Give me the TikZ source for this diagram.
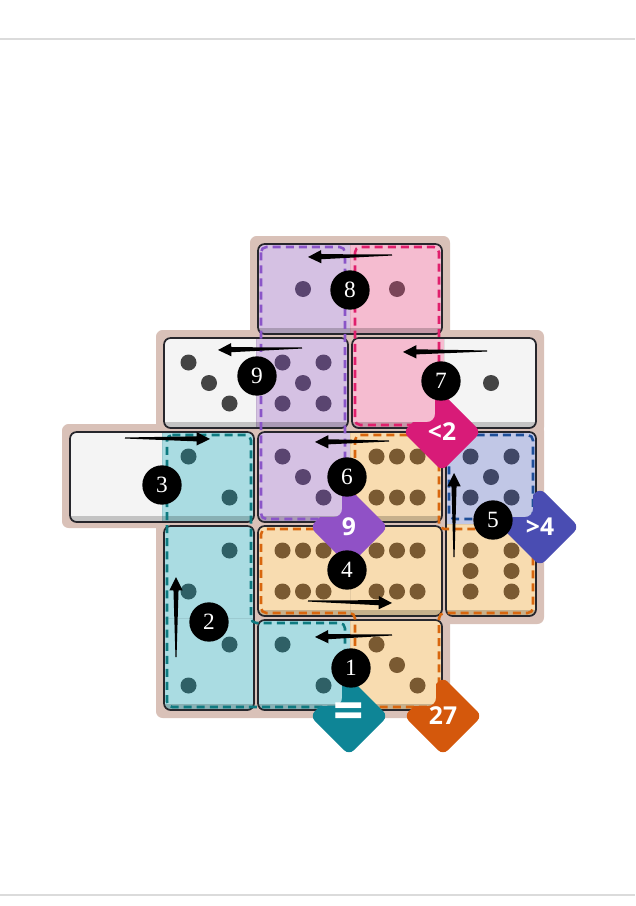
\documentclass[tikz,border=0pt]{standalone}
\usepackage{fontspec}
\setmainfont{Liberation Serif}
\newfontfamily\badgefont{Open Sans}
\usetikzlibrary{calc}
\definecolor{bgtan}{HTML}{D9C1B8}
\definecolor{cwhite}{HTML}{F4F4F4}
\definecolor{cteal}{HTML}{AADCE2}
\definecolor{cpurple}{HTML}{D5C1E3}
\definecolor{cpink}{HTML}{F5BCD0}
\definecolor{corange}{HTML}{F8DCB0}
\definecolor{cblue}{HTML}{C1C7E6}
\definecolor{dteal}{HTML}{0E7A80}
\definecolor{dpurple}{HTML}{8A55C8}
\definecolor{dpink}{HTML}{E01F6C}
\definecolor{dorange}{HTML}{D8660E}
\definecolor{dblue}{HTML}{1E4E98}
\definecolor{pwhite}{HTML}{444444}
\definecolor{pteal}{HTML}{2F6066}
\definecolor{ppurple}{HTML}{5A4570}
\definecolor{ppink}{HTML}{7A4558}
\definecolor{porange}{HTML}{7A5A32}
\definecolor{pblue}{HTML}{404766}
\definecolor{domedge}{HTML}{26262C}
\definecolor{bpink}{HTML}{D81B78}
\definecolor{bpurple}{HTML}{9051C6}
\definecolor{bblue}{HTML}{4A4DB2}
\definecolor{bteal}{HTML}{0E8596}
\definecolor{borange}{HTML}{D4580C}
\tikzset{
  dom/.style={draw=domedge, line width=1.3pt, rounded corners=5pt},
  reg/.style={line width=1.9pt, dash pattern=on 6pt off 3.8pt, rounded corners=4pt},
  marker/.style={circle, fill=black, text=white, minimum size=29.5pt, inner sep=0pt, font=\fontsize{17.5}{17.5}\selectfont},
  badgetxt/.style={text=white, font=\badgefont\bfseries\fontsize{18.5}{18.5}\selectfont, inner sep=0pt},
  arrowfill/.style={fill=black}
}
\newcommand\domH[4]{%
  \pgfmathsetmacro\dmx{68+94*#2}\pgfmathsetmacro\dmy{242+94*#1}%
  \begin{scope}
    \clip[rounded corners=5pt] (\dmx+2,\dmy+2) rectangle (\dmx+186,\dmy+92);
    \fill[#3] (\dmx,\dmy) rectangle (\dmx+94,\dmy+94);
    \fill[#4] (\dmx+94,\dmy) rectangle (\dmx+188,\dmy+94);
    \fill[black,opacity=0.2] (\dmx,\dmy+86) rectangle (\dmx+188,\dmy+94);
    \draw[black,opacity=0.08,line width=0.5pt] (\dmx+94,\dmy) -- (\dmx+94,\dmy+94);
  \end{scope}
  \draw[dom] (\dmx+2,\dmy+2) rectangle (\dmx+186,\dmy+92);
}
\newcommand\domV[4]{%
  \pgfmathsetmacro\dmx{68+94*#2}\pgfmathsetmacro\dmy{242+94*#1}%
  \begin{scope}
    \clip[rounded corners=5pt] (\dmx+2,\dmy+2) rectangle (\dmx+92,\dmy+186);
    \fill[#3] (\dmx,\dmy) rectangle (\dmx+94,\dmy+94);
    \fill[#4] (\dmx,\dmy+94) rectangle (\dmx+94,\dmy+188);
    \fill[black,opacity=0.2] (\dmx,\dmy+180) rectangle (\dmx+94,\dmy+188);
    \draw[black,opacity=0.08,line width=0.5pt] (\dmx,\dmy+94) -- (\dmx+94,\dmy+94);
  \end{scope}
  \draw[dom] (\dmx+2,\dmy+2) rectangle (\dmx+92,\dmy+186);
}
\newcommand\face[4]{%
  \foreach \u/\v in {#4} \fill[#3] ({115+94*#2+20.5*\u},{289+94*#1+20.5*\v}) circle[radius=6pt];
}
\newcommand\tarrow[2]{%
  \coordinate (tmpbase) at ($(#2)!10pt!(#1)$);
  \fill[arrowfill] ($(#1)!0.4pt!90:(#2)$) -- ($(tmpbase)!1.9pt!90:(#2)$) -- ($(tmpbase)!5pt!90:(#2)$) -- (#2)
     -- ($(tmpbase)!5pt!-90:(#2)$) -- ($(tmpbase)!1.9pt!-90:(#2)$) -- ($(#1)!0.4pt!-90:(#2)$) -- cycle;
}
\newcommand\badge[5]{%
  \begin{scope}[even odd rule]
    \clip (0,0) rectangle (635,906) [rounded corners=6pt] ({#2-100},{#3-100}) rectangle ({#2-7},{#3-10});
    \fill[#4, rounded corners=5pt] ({#2},{#3-39}) -- ({#2+39},{#3}) -- ({#2},{#3+39}) -- ({#2-39},{#3}) -- cycle;
  \end{scope}
  \node[badgetxt] (#1) at (#2,#3) {#5};
}
\begin{document}
\begin{tikzpicture}[x=0.75pt,y=-0.75pt]
\useasboundingbox (0,0) rectangle (635,906);
\fill[white] (0,0) rectangle (635,906);
\draw[black!14, line width=0.8pt] (0,39) -- (635,39);
\draw[black!14, line width=0.8pt] (0,895) -- (635,895);
% board background
\begin{scope}[bgtan, rounded corners=5pt]
  \fill (250,236) rectangle (450,340);
  \fill (156,330) rectangle (544,434);
  \fill (62,424) rectangle (544,528);
  \fill (156,518) rectangle (544,624);
  \fill (156,612) rectangle (450,718);
\end{scope}
% dominoes
\domH{0}{2}{cpurple}{cpink}
\domH{1}{1}{cwhite}{cpurple}
\domH{1}{3}{cpink}{cwhite}
\domH{2}{0}{cwhite}{cteal}
\domH{2}{2}{cpurple}{corange}
\domV{2}{4}{cblue}{corange}
\domV{3}{1}{cteal}{cteal}
\domH{3}{2}{corange}{corange}
\domH{4}{2}{cteal}{corange}
% regions
\draw[reg, draw=dpurple] (261,247) rectangle (345,519);
\draw[reg, draw=dpink] (355,247) rectangle (439,425);
\draw[reg, draw=dblue] (449,435) rectangle (533,519);
\draw[reg, draw=dteal] (167,435) -- (251,435) -- (251,623) -- (345,623) -- (345,707) -- (167,707) -- cycle;
\draw[reg, draw=dorange] (355,435) -- (439,435) -- (439,529) -- (533,529) -- (533,613) -- (439,613) -- (439,707) -- (355,707) -- (355,613) -- (261,613) -- (261,529) -- (355,529) -- cycle;
% pips
\face{0}{2}{ppurple}{0/0}
\face{0}{3}{ppink}{0/0}
\face{1}{1}{pwhite}{-1/-1,0/0,1/1}
\face{1}{2}{ppurple}{-1/-1,1/-1,0/0,-1/1,1/1}
\face{1}{4}{pwhite}{0/0}
\face{2}{1}{pteal}{-1/-1,1/1}
\face{2}{2}{ppurple}{-1/-1,0/0,1/1}
\face{2}{3}{porange}{-1/-1,0/-1,1/-1,-1/1,0/1,1/1}
\face{2}{4}{pblue}{-1/-1,1/-1,0/0,-1/1,1/1}
\face{3}{1}{pteal}{1/-1,-1/1}
\face{3}{2}{porange}{-1/-1,0/-1,1/-1,-1/1,0/1,1/1}
\face{3}{3}{porange}{-1/-1,0/-1,1/-1,-1/1,0/1,1/1}
\face{3}{4}{porange}{-1/-1,-1/0,-1/1,1/-1,1/0,1/1}
\face{4}{1}{pteal}{1/-1,-1/1}
\face{4}{2}{pteal}{-1/-1,1/1}
\face{4}{3}{porange}{-1/-1,0/0,1/1}
% arrows
\coordinate (t1) at (392,635); \coordinate (h1) at (315,637);
\coordinate (t2) at (176,657); \coordinate (h2) at (176,577);
\coordinate (t3) at (125,438); \coordinate (h3) at (210,439);
\coordinate (t4) at (308,601); \coordinate (h4) at (392,603);
\coordinate (t5) at (454,557); \coordinate (h5) at (454,473);
\coordinate (t6) at (389,441); \coordinate (h6) at (315,442);
\coordinate (t7) at (487,351); \coordinate (h7) at (403,352);
\coordinate (t8) at (392,255); \coordinate (h8) at (308,257);
\coordinate (t9) at (302,348); \coordinate (h9) at (218,350);
\tarrow{t1}{h1}\tarrow{t2}{h2}\tarrow{t3}{h3}\tarrow{t4}{h4}\tarrow{t5}{h5}
\tarrow{t6}{h6}\tarrow{t7}{h7}\tarrow{t8}{h8}\tarrow{t9}{h9}
% badges
\badge{blt}{442}{432}{bpink}{<2}
\badge{bnine}{349}{527}{bpurple}{9}
\badge{bgt}{540}{527}{bblue}{>4}
\badge{beq}{349}{716}{bteal}{\fontsize{40}{40}\selectfont =}
\badge{bsum}{443}{716}{borange}{27}
% markers
\node[marker] (m1) at (351,668) {1};
\node[marker] (m2) at (209,622) {2};
\node[marker] (m3) at (162,485) {3};
\node[marker] (m4) at (347,570) {4};
\node[marker] (m5) at (493,520) {5};
\node[marker] (m6) at (347,477) {6};
\node[marker] (m7) at (441,381) {7};
\node[marker] (m8) at (350,290) {8};
\node[marker] (m9) at (257,376) {9};
\end{tikzpicture}
\end{document}
